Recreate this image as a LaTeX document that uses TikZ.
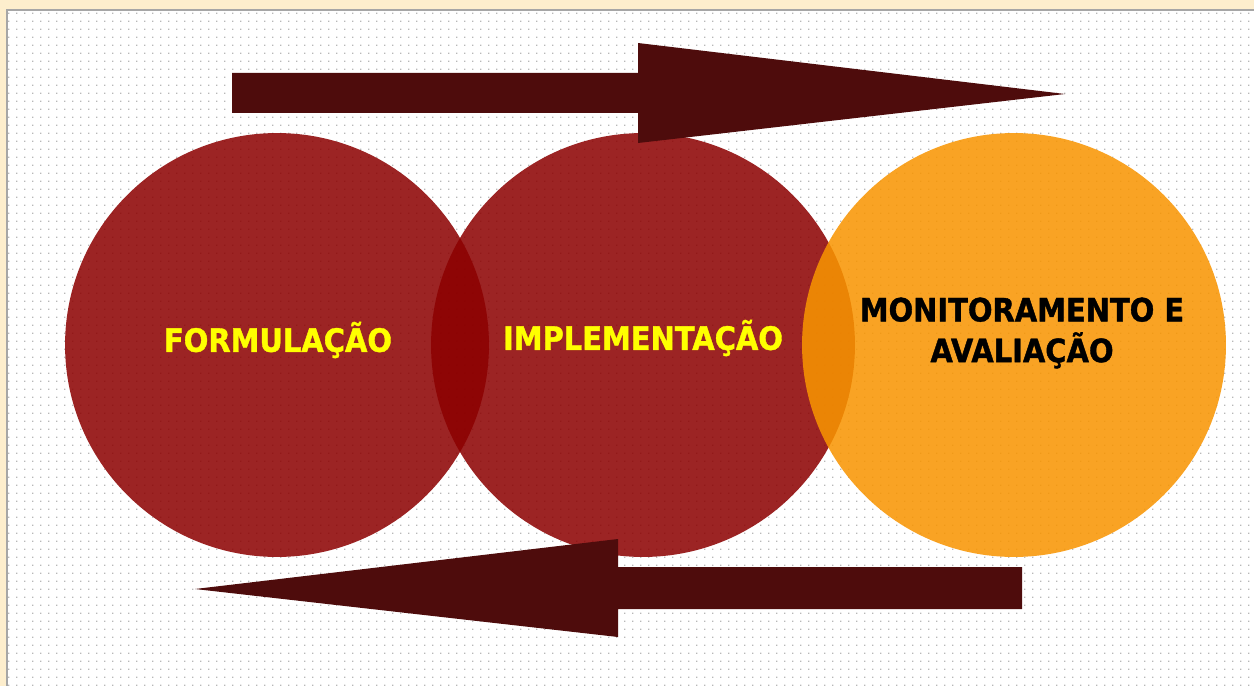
\documentclass[tikz,border=0pt]{standalone}
\usepackage{fontspec}
\newfontfamily\lblfont[FakeStretch=0.9, BoldFeatures={FakeBold=1.2}]{DejaVu Sans}
\usetikzlibrary{patterns.meta}

\definecolor{circred}{RGB}{140,0,0}
\definecolor{circorange}{RGB}{249,149,0}
\definecolor{arrowdark}{RGB}{78,12,12}
\definecolor{txtyellow}{RGB}{255,255,0}
\definecolor{slidecream}{RGB}{253,238,205}

\tikzdeclarepattern{name=griddots, type=uncolored,
  bounding box={(0,0) and (0.16cm,0.16cm)}, tile size={(0.16cm,0.16cm)},
  code={\fill (0,0) rectangle (0.03cm,0.03cm);}}

\begin{document}
\begin{tikzpicture}[x=0.02cm, y=-0.02cm,
  circ/.style = {circle, minimum size=8.48cm, inner sep=0pt, fill opacity=0.86, text opacity=1},
  redcirc/.style = {circ, fill=circred},
  orcirc/.style = {circ, fill=circorange},
  lbl/.style = {font=\lblfont\bfseries\fontsize{18.3}{23.2}\selectfont, align=center, inner sep=0pt},
  blockarrow/.style = {fill=arrowdark}]
\useasboundingbox (0,0) rectangle (1254,686);
\fill[slidecream] (0,0) rectangle (1254,686);
\fill[white] (7,10) rectangle (1254,686);
\fill[pattern=griddots, pattern color=black!28] (7,10) rectangle (1254,686);
\draw[gray!70, line width=0.8pt] (7,686) -- (7,10) -- (1254,10);

\node[redcirc] (form) at (277,345) {};
\node[redcirc] (impl) at (643,345) {};
\node[orcirc] (moni) at (1014,345) {};

\fill[blockarrow] (232,73) -- (638,73) -- (638,43) -- (1065,94) -- (638,143) -- (638,113) -- (232,113) -- cycle;
\fill[blockarrow] (1022,567) -- (618,567) -- (618,539) -- (195,589) -- (618,637) -- (618,609) -- (1022,609) -- cycle;

\node[lbl, text=txtyellow] (tform) at (278,340) {FORMULAÇÃO};
\node[lbl, text=txtyellow] (timpl) at (643,338) {IMPLEMENTAÇÃO};
\node[lbl, text=black] (tmoni) at (1022,333) {MONITORAMENTO E\\AVALIAÇÃO};
\end{tikzpicture}
\end{document}
